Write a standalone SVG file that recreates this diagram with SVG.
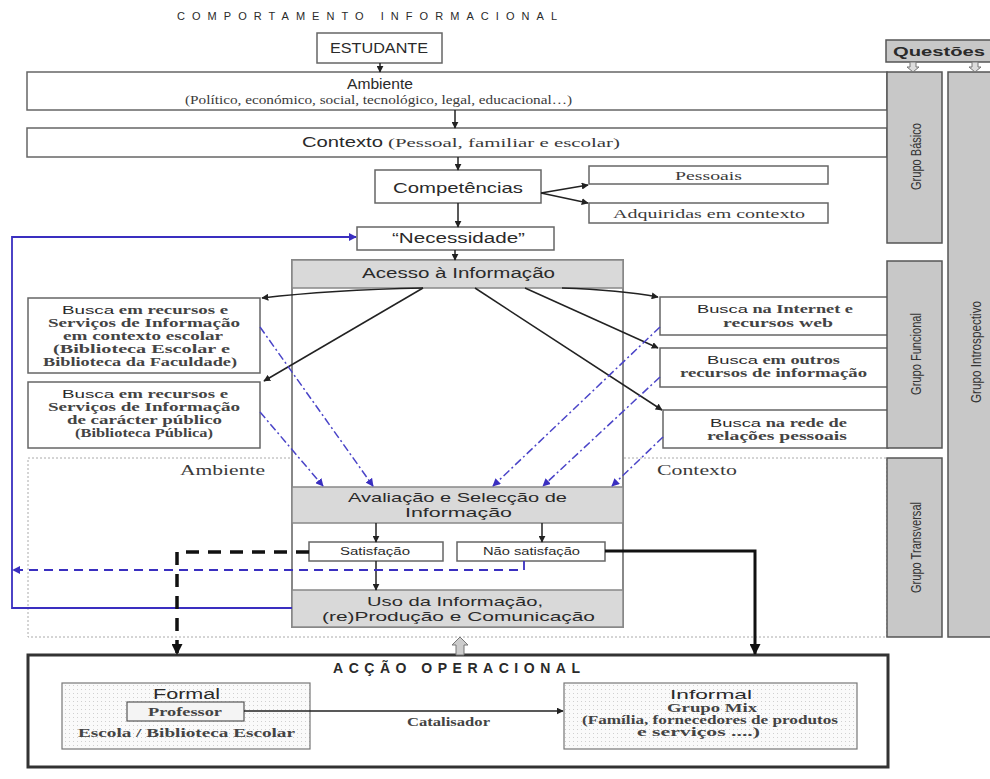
<svg xmlns="http://www.w3.org/2000/svg" width="990" height="779" viewBox="0 0 990 779">
<defs>
<style>
.box{fill:#fff;stroke:#666;stroke-width:1.5}
.band{fill:#d9d9d9;stroke:#888;stroke-width:1.5}
.grp{fill:#c8c8c8;stroke:#555;stroke-width:1.5}
.sans{font-family:"Liberation Sans",Arial,sans-serif;fill:#2a2a2a}
.ser{font-family:"Liberation Serif","Times New Roman",serif;fill:#3a3a3a}
.sb{font-family:"Liberation Serif","Times New Roman",serif;fill:#444;font-weight:bold;font-size:11.5px}
.narrow{font-family:"Liberation Sans Narrow","Liberation Sans",sans-serif;fill:#333;font-size:14px}
.ln{fill:none;stroke:#222;stroke-width:1.5}
.blue{fill:none;stroke:#3a2fc0;stroke-width:1.8}
.dd{fill:none;stroke:#4a44c8;stroke-width:1.5;stroke-dasharray:8 3 2 3}
</style>
<marker id="ah" viewBox="0 0 10 10" refX="9" refY="5" markerWidth="7" markerHeight="7" orient="auto" markerUnits="userSpaceOnUse">
<path d="M0,0 L10,5 L0,10 z" fill="#222"/>
</marker>
<marker id="ahb" viewBox="0 0 10 10" refX="9" refY="5" markerWidth="8" markerHeight="8" orient="auto" markerUnits="userSpaceOnUse">
<path d="M0,0 L10,5 L0,10 z" fill="#3a2fc0"/>
</marker>
<marker id="ahk" viewBox="0 0 10 10" refX="9" refY="5" markerWidth="11" markerHeight="11" orient="auto" markerUnits="userSpaceOnUse">
<path d="M0,0 L10,5 L0,10 z" fill="#111"/>
</marker>
<pattern id="dots" width="4" height="4" patternUnits="userSpaceOnUse">
<rect width="4" height="4" fill="#fafafa"/>
<rect x="1" y="1" width="1" height="1" fill="#d0d0d0"/>
</pattern>
</defs>
<rect width="990" height="779" fill="#fff"/>

<text class="sans" x="177" y="20" font-size="11" textLength="380" lengthAdjust="spacing" fill="#222">COMPORTAMENTO INFORMACIONAL</text>

<rect id="area" x="28" y="458" width="859" height="179" fill="none" stroke="#aaa" stroke-width="1" stroke-dasharray="2 2"/>
<text class="ser" x="180" y="475" font-size="14" textLength="85" lengthAdjust="spacingAndGlyphs" fill="#666">Ambiente</text>
<text class="ser" x="436" y="475" font-size="12" text-anchor="middle" fill="#999">/</text>
<text class="ser" x="657" y="475" font-size="14" textLength="80" lengthAdjust="spacingAndGlyphs" fill="#666">Contexto</text>

<g id="estudante">
<rect class="box" x="317" y="33" width="125" height="30"/>
<text class="sans" x="330" y="53" font-size="14" textLength="98" lengthAdjust="spacingAndGlyphs">ESTUDANTE</text>
</g>
<g id="ambiente">
<rect class="box" x="27" y="72" width="860" height="38"/>
<text class="sans" x="347" y="89" font-size="14" textLength="66" lengthAdjust="spacingAndGlyphs">Ambiente</text>
<text class="ser" x="185" y="104" font-size="12" textLength="387" lengthAdjust="spacingAndGlyphs">(Político, económico, social, tecnológico, legal, educacional…)</text>
</g>
<g id="contexto">
<rect class="box" x="27" y="128" width="860" height="29"/>
<text class="sans" x="302" y="147" font-size="14" textLength="81" lengthAdjust="spacingAndGlyphs">Contexto</text>
<text class="ser" x="388" y="147" font-size="12" textLength="232" lengthAdjust="spacingAndGlyphs">(Pessoal, familiar e escolar)</text>
</g>
<g id="competencias">
<rect class="box" x="375" y="170" width="166" height="33"/>
<text class="sans" x="393" y="193" font-size="15" textLength="130" lengthAdjust="spacingAndGlyphs">Competências</text>
</g>
<g id="pessoais">
<rect class="box" x="589" y="166" width="239" height="18"/>
<text class="ser" x="675" y="180" font-size="12" textLength="67" lengthAdjust="spacingAndGlyphs">Pessoais</text>
</g>
<g id="adquiridas">
<rect class="box" x="589" y="203" width="239" height="20"/>
<text class="ser" x="613" y="218" font-size="12" textLength="192" lengthAdjust="spacingAndGlyphs">Adquiridas em contexto</text>
</g>
<g id="necessidade">
<rect class="box" x="357" y="227" width="197" height="23"/>
<text class="sans" x="392" y="243" font-size="14" textLength="133" lengthAdjust="spacingAndGlyphs">“Necessidade”</text>
</g>

<g id="container">
<rect x="292" y="260" width="331" height="367" fill="#fff" stroke="#888" stroke-width="2"/>
</g>
<g id="acesso">
<rect class="band" x="292" y="260" width="331" height="28"/>
<text class="sans" x="362" y="278" font-size="14" textLength="193" lengthAdjust="spacingAndGlyphs">Acesso à Informação</text>
</g>
<g id="avaliacao">
<rect class="band" x="292" y="487" width="331" height="36"/>
<text class="sans" x="348" y="502" font-size="13.5" textLength="219" lengthAdjust="spacingAndGlyphs">Avaliação e Selecção de</text>
<text class="sans" x="405" y="517" font-size="13.5" textLength="107" lengthAdjust="spacingAndGlyphs">Informação</text>
</g>
<g id="uso">
<rect class="band" x="292" y="590" width="331" height="37"/>
<text class="sans" x="367" y="606" font-size="13.5" textLength="176" lengthAdjust="spacingAndGlyphs">Uso da Informação,</text>
<text class="sans" x="322" y="621" font-size="13.5" textLength="273" lengthAdjust="spacingAndGlyphs">(re)Produção e Comunicação</text>
</g>
<g id="satisfacao">
<rect class="box" x="309" y="542" width="134" height="19"/>
<text class="sans" x="340" y="555" font-size="10" textLength="70" lengthAdjust="spacingAndGlyphs">Satisfação</text>
</g>
<g id="naosatisfacao">
<rect class="box" x="457" y="542" width="148" height="19"/>
<text class="sans" x="483" y="555" font-size="10" textLength="97" lengthAdjust="spacingAndGlyphs">Não satisfação</text>
</g>

<g id="busca-escolar">
<rect class="box" x="28" y="298" width="232" height="75"/>
<text class="sb" x="62" y="314" textLength="166" lengthAdjust="spacingAndGlyphs"><tspan class="sans" font-weight="normal">Busca</tspan> em recursos e</text>
<text class="sb" x="48" y="327" textLength="192" lengthAdjust="spacingAndGlyphs">Serviços de Informação</text>
<text class="sb" x="63" y="340" textLength="160" lengthAdjust="spacingAndGlyphs">em contexto escolar</text>
<text class="sb" x="53" y="353" textLength="177" lengthAdjust="spacingAndGlyphs">(Biblioteca Escolar e</text>
<text class="sb" x="43" y="366" textLength="194" lengthAdjust="spacingAndGlyphs">Biblioteca da Faculdade)</text>
</g>
<g id="busca-publico">
<rect class="box" x="28" y="382" width="232" height="66"/>
<text class="sb" x="62" y="398" textLength="166" lengthAdjust="spacingAndGlyphs"><tspan class="sans" font-weight="normal">Busca</tspan> em recursos e</text>
<text class="sb" x="48" y="411" textLength="192" lengthAdjust="spacingAndGlyphs">Serviços de Informação</text>
<text class="sb" x="67" y="424" textLength="155" lengthAdjust="spacingAndGlyphs">de carácter público</text>
<text class="sb" x="75" y="437" textLength="138" lengthAdjust="spacingAndGlyphs">(Biblioteca Pública)</text>
</g>
<g id="busca-internet">
<rect class="box" x="660" y="297" width="228" height="38"/>
<text class="sb" x="697" y="313" textLength="156" lengthAdjust="spacingAndGlyphs"><tspan class="sans" font-weight="normal">Busca</tspan> na Internet e</text>
<text class="sb" x="723" y="327" textLength="110" lengthAdjust="spacingAndGlyphs">recursos web</text>
</g>
<g id="busca-outros">
<rect class="box" x="660" y="348" width="228" height="39"/>
<text class="sb" x="707" y="364" textLength="133" lengthAdjust="spacingAndGlyphs"><tspan class="sans" font-weight="normal">Busca</tspan> em outros</text>
<text class="sb" x="680" y="377" textLength="187" lengthAdjust="spacingAndGlyphs">recursos de informação</text>
</g>
<g id="busca-rede">
<rect class="box" x="663" y="410" width="225" height="38"/>
<text class="sb" x="710" y="427" textLength="137" lengthAdjust="spacingAndGlyphs"><tspan class="sans" font-weight="normal">Busca</tspan> na rede de</text>
<text class="sb" x="707" y="440" textLength="140" lengthAdjust="spacingAndGlyphs">relações pessoais</text>
</g>

<g id="questoes">
<rect class="grp" x="886" y="40" width="106" height="22"/>
<text class="sans" x="893" y="56" font-size="12" textLength="92" lengthAdjust="spacingAndGlyphs" font-weight="bold">Questões</text>
</g>
<g id="grupo-basico">
<rect class="grp" x="887" y="72" width="55" height="171"/>
<text class="narrow" transform="translate(921,190) rotate(-90)" textLength="67" lengthAdjust="spacingAndGlyphs">Grupo Básico</text>
</g>
<g id="grupo-funcional">
<rect class="grp" x="887" y="261" width="55" height="187"/>
<text class="narrow" transform="translate(921,395) rotate(-90)" textLength="82" lengthAdjust="spacingAndGlyphs">Grupo Funcional</text>
</g>
<g id="grupo-transversal">
<rect class="grp" x="887" y="458" width="55" height="179"/>
<text class="narrow" transform="translate(921,593) rotate(-90)" textLength="91" lengthAdjust="spacingAndGlyphs">Grupo Transversal</text>
</g>
<g id="grupo-introspectivo">
<rect class="grp" x="948" y="72" width="50" height="565"/>
<text class="narrow" transform="translate(981,403) rotate(-90)" textLength="102" lengthAdjust="spacingAndGlyphs">Grupo Introspectivo</text>
</g>

<g id="accao">
<rect x="28" y="655" width="860" height="112" fill="#fff" stroke="#333" stroke-width="3"/>
<text class="sans" x="333" y="673" font-size="14" textLength="247" lengthAdjust="spacing" font-weight="bold">ACÇÃO OPERACIONAL</text>
</g>
<g id="formal">
<rect x="62" y="683" width="248" height="66" fill="url(#dots)" stroke="#777" stroke-width="1.2"/>
<text class="sans" x="153" y="699" font-size="14" textLength="67" lengthAdjust="spacingAndGlyphs">Formal</text>
<rect x="127" y="702" width="117" height="19" fill="#f4f4f4" stroke="#555" stroke-width="1.2"/>
<text class="sb" x="148" y="716" textLength="74" lengthAdjust="spacingAndGlyphs">Professor</text>
<text class="sb" x="78" y="737" textLength="217" lengthAdjust="spacingAndGlyphs">Escola / Biblioteca Escolar</text>
</g>
<g id="informal">
<rect x="564" y="683" width="293" height="66" fill="url(#dots)" stroke="#777" stroke-width="1.2"/>
<text class="sans" x="670" y="699" font-size="13.5" textLength="82" lengthAdjust="spacingAndGlyphs">Informal</text>
<text class="sb" x="667" y="712" font-size="11" textLength="90" lengthAdjust="spacingAndGlyphs">Grupo Mix</text>
<text class="sb" x="582" y="724" font-size="10.5" textLength="256" lengthAdjust="spacingAndGlyphs">(Família, fornecedores de produtos</text>
<text class="sb" x="637" y="736" font-size="10.5" textLength="123" lengthAdjust="spacingAndGlyphs">e serviços ....)</text>
</g>

<g id="connectors">
<line class="ln" x1="380" y1="63" x2="380" y2="72" marker-end="url(#ah)"/>
<line class="ln" x1="455" y1="110" x2="455" y2="128" marker-end="url(#ah)"/>
<line class="ln" x1="458" y1="157" x2="458" y2="170" marker-end="url(#ah)"/>
<line class="ln" x1="541" y1="193" x2="588" y2="185" marker-end="url(#ah)"/>
<line class="ln" x1="541" y1="193" x2="588" y2="203" marker-end="url(#ah)"/>
<line class="ln" x1="458" y1="203" x2="458" y2="227" marker-end="url(#ah)"/>
<line class="ln" x1="455" y1="250" x2="455" y2="260" marker-end="url(#ah)"/>
<path class="ln" d="M423,288 Q330,290 262,298" marker-end="url(#ah)"/>
<line class="ln" x1="423" y1="288" x2="264" y2="381" marker-end="url(#ah)"/>
<path class="ln" d="M562,288 Q620,290 658,297" marker-end="url(#ah)"/>
<line class="ln" x1="525" y1="288" x2="658" y2="348" marker-end="url(#ah)"/>
<line class="ln" x1="475" y1="288" x2="662" y2="410" marker-end="url(#ah)"/>
<line class="dd" x1="260" y1="327" x2="373" y2="486" marker-end="url(#ahb)"/>
<line class="dd" x1="260" y1="412" x2="323" y2="486" marker-end="url(#ahb)"/>
<line class="dd" x1="660" y1="327" x2="493" y2="486" marker-end="url(#ahb)"/>
<line class="dd" x1="660" y1="377" x2="543" y2="486" marker-end="url(#ahb)"/>
<line class="dd" x1="663" y1="437" x2="612" y2="486" marker-end="url(#ahb)"/>
<line class="ln" x1="376" y1="523" x2="376" y2="542" marker-end="url(#ah)"/>
<line class="ln" x1="542" y1="523" x2="542" y2="542" marker-end="url(#ah)"/>
<line class="ln" x1="376" y1="561" x2="376" y2="590" marker-end="url(#ah)"/>
<polyline class="blue" points="292,608 12,608 12,237 356,237" marker-end="url(#ahb)"/>
<polyline class="blue" points="524,561 524,570 13,570" stroke-dasharray="9 6" marker-end="url(#ahb)"/>
<polyline points="309,552 177,552 177,654" fill="none" stroke="#111" stroke-width="3.5" stroke-dasharray="13 9" marker-end="url(#ahk)"/>
<polyline points="605,551 755,551 755,654" fill="none" stroke="#111" stroke-width="3" marker-end="url(#ahk)"/>
<line class="ln" x1="244" y1="711" x2="563" y2="711" marker-end="url(#ah)"/>
<text class="sb" x="407" y="726" font-size="11.5" textLength="83" lengthAdjust="spacingAndGlyphs" fill="#555">Catalisador</text>
<path d="M456,655 L456,645 L452,645 L460,637 L468,645 L464,645 L464,655 z" fill="#ccc" stroke="#777" stroke-width="1"/>
<path d="M910,62 L910,67 L907,67 L913,72 L919,67 L916,67 L916,62 z" fill="#ddd" stroke="#777" stroke-width="1"/>
<path d="M972,62 L972,67 L969,67 L975,72 L981,67 L978,67 L978,62 z" fill="#ddd" stroke="#777" stroke-width="1"/>
</g>
</svg>
